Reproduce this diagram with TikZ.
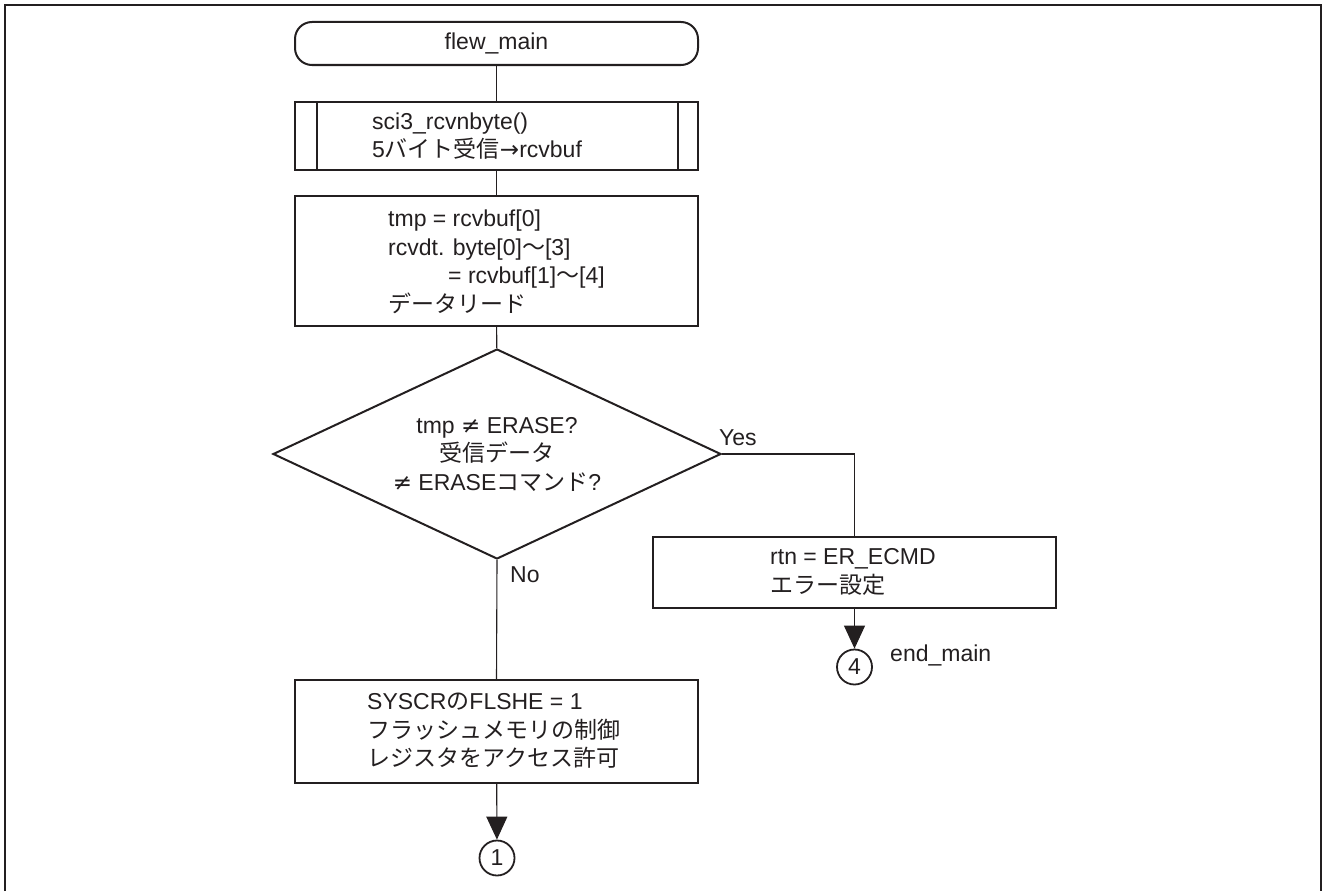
\documentclass[tikz,border=0pt]{standalone}
\usepackage{fontspec}
\setmainfont{Liberation Sans}
\newfontfamily\jp{Noto Sans CJK JP}
\newfontfamily\sym{DejaVu Sans}
\definecolor{flowink}{HTML}{231F20}
\usetikzlibrary{arrows.meta,calc,shapes.geometric}

\begin{document}
\begin{tikzpicture}[
  x=1pt,
  y=-1pt,
  line join=miter,
  every node/.style={font=\fontsize{23}{28.5}\selectfont,text=flowink},
  frame/.style={draw=flowink,line width=2.2pt},
  box/.style={rectangle,draw=flowink,line width=2pt,minimum width=403pt,inner sep=0pt},
  terminal/.style={box,rounded corners=17pt,minimum height=43pt},
  decision/.style={diamond,draw=flowink,line width=2pt,aspect=2.13,inner sep=0pt,minimum width=448pt,minimum height=210pt,align=center},
  connector/.style={circle,draw=flowink,line width=1.8pt,minimum size=35pt,inner sep=0pt},
  subline/.style={draw=flowink,line width=2pt},
  flow/.style={draw=flowink,line width=1.1pt},
  flowarrow/.style={flow,-{Triangle[length=23pt,width=21pt]}},
  boxtext/.style={anchor=west,align=left,inner sep=0pt},
  branch/.style={inner sep=0pt,anchor=base west}
]
  \useasboundingbox (0,0) rectangle (1324,891);
  \draw[frame] (5,891) -- (5,5) -- (1321,5) -- (1321,891);

  % main column
  \node[terminal] (start) at (496.5,43.5) {flew\_main};

  \node[box,minimum height=68pt] (rcv) at (496.5,136) {};
  \draw[subline] ([xshift=23pt]rcv.north west) -- ([xshift=23pt]rcv.south west);
  \draw[subline] ([xshift=-21pt]rcv.north east) -- ([xshift=-21pt]rcv.south east);
  \node[boxtext] (rcvtext) at (372,136) {sci3\_rcvnbyte()\\5{\jp バイト受信}{\sym →}rcvbuf};

  \node[box,minimum height=130pt] (read) at (496.5,261) {};
  \node[boxtext] (readtext) at (388,262)
    {tmp = rcvbuf[0]\\rcvdt. byte[0]{\jp 〜}[3]\\\hspace*{60pt}= rcvbuf[1]{\jp 〜}[4]\\{\jp データリード}};

  \node[decision] (chk) at (497,454)
    {tmp {\sym ≠} ERASE?\\{\jp 受信データ}\\{\sym ≠} ERASE{\jp コマンド}?};

  \node[box,minimum height=103pt] (flsh) at (496.5,731.5) {};
  \node[boxtext] (flshtext) at (367,731)
    {SYSCR{\jp の}FLSHE = 1\\{\jp フラッシュメモリの制御}\\{\jp レジスタをアクセス許可}};
  \node[connector] (c1) at (497,858) {1};

  % yes branch
  \node[box,minimum height=71pt] (err) at (854.5,572.5) {};
  \node[boxtext] (errtext) at (770,572) {rtn = ER\_ECMD\\{\jp エラー設定}};
  \node[connector] (c4) at (854.5,667) {4};
  \node[branch] (endlbl) at (890,661) {end\_main};

  \draw[flow] (start) -- (rcv);
  \draw[flow] (rcv) -- (read);
  \draw[flow] (read) -- (chk);
  \draw[flow] (chk.east) -| (err.north);
  \draw[flow] (chk.south) -- (flsh.north);
  \draw[flowarrow] (err) -- (c4);
  \draw[flowarrow] (flsh) -- (c1);

  \node[branch] (yes) at ([xshift=-3pt,yshift=9pt]chk.east) {Yes};
  \node[branch] (no) at ([xshift=13pt,yshift=-22pt]chk.south) {No};
\end{tikzpicture}
\end{document}
